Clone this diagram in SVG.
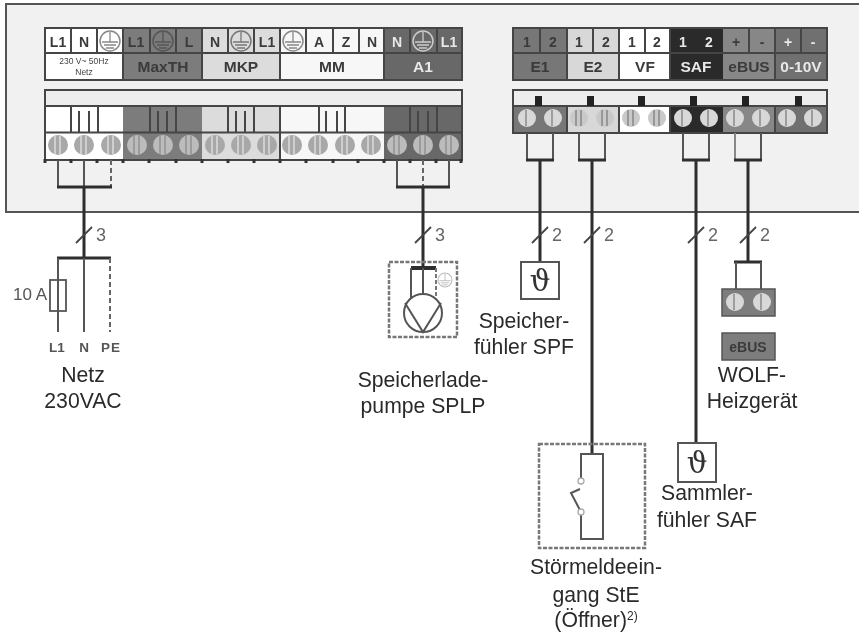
<svg xmlns="http://www.w3.org/2000/svg" xmlns:xlink="http://www.w3.org/1999/xlink" width="859" height="633" viewBox="0 0 859 633">
<style>
text{font-family:"Liberation Sans",Arial,sans-serif;text-anchor:middle}
.cap{font-size:21.200px;fill:#2a2a2a}
.t{font-size:14px;font-weight:700}
.g{font-size:15.500px;font-weight:700}
.num{font-size:18px;fill:#666}
.lab{font-size:13.500px;font-weight:700;fill:#555}
.dk{fill:#3a3a3a}.lt{fill:#e8e8e8}
.b{stroke:#444;stroke-width:2}
.ln{stroke:#444;stroke-width:2;fill:none}
.w{stroke:#555;stroke-width:2;fill:none}
.hv{stroke:#2e2e2e;stroke-width:3;fill:none}
.dash{stroke:#666;stroke-width:2;fill:none;stroke-dasharray:5 3}
.box{fill:none;stroke:#777;stroke-width:2.500;stroke-dasharray:4 1.500}
.th{font-size:29px;fill:#333;font-family:"DejaVu Serif","Liberation Serif",serif}
</style>
<defs>
<filter id="soft" x="-2%" y="-2%" width="104%" height="104%"><feGaussianBlur stdDeviation="0.7"/></filter>
<g id="s"><circle r="10" fill="#a8a8a8"/><path d="M-3-9V9M2-9V9" stroke="#e4e4e4" stroke-width="1.300"/></g>
<g id="sm"><circle r="10" fill="#bcbcbc"/><path d="M-3-9V9M2-9V9" stroke="#888" stroke-width="1.200"/></g>
<g id="sl"><circle r="9" fill="#c9c9c9"/><path d="M-3-8V8M2-8V8" stroke="#777" stroke-width="1.200"/></g>
<g id="sd"><circle r="9" fill="#d8d8d8"/><path d="M-1-8V8" stroke="#777" stroke-width="1.200"/></g>
<g id="pe"><circle r="10" fill="none" stroke="currentColor" stroke-width="1.500"/><path d="M0-9V1M-8 1H8M-6 4H6M-4 7H4" stroke="currentColor" stroke-width="1.300" fill="none"/></g>
<path id="tick" d="M-1.500 0h3v4h-3z" fill="#333"/>
<path id="sl2" d="M-8 8L8-8" stroke="#444" stroke-width="1.800" fill="none"/>
</defs>

<g id="housing"><rect x="6" y="4" width="870" height="208" fill="#f1f1f1" stroke="#555" stroke-width="2"/></g>

<g id="terminals-left" filter="url(#soft)">
<rect x="45" y="28" width="78" height="52" fill="#fff"/>
<rect x="123" y="28" width="79" height="52" fill="#7b7b7b"/>
<rect x="202" y="28" width="78" height="52" fill="#dcdcdc"/>
<rect x="280" y="28" width="104" height="52" fill="#f7f7f7"/>
<rect x="384" y="28" width="78" height="52" fill="#686868"/>
<rect x="45" y="28" width="417" height="52" fill="none" class="b"/>
<path class="b" d="M45 53H462M71 28V53M97 28V53M123 28V80M150 28V53M176 28V53M202 28V80M228 28V53M254 28V53M280 28V80M306 28V53M333 28V53M359 28V53M384 28V80M410 28V53M437 28V53"/>
<text class="t dk" x="58" y="47">L1</text><text class="t dk" x="84" y="47">N</text>
<use xlink:href="#pe" x="110" y="41" color="#888"/>
<text class="t dk" x="136" y="47">L1</text><use xlink:href="#pe" x="163" y="41" color="#555"/><text class="t dk" x="189" y="47">L</text>
<text class="t dk" x="215" y="47">N</text><use xlink:href="#pe" x="241" y="41" color="#777"/><text class="t dk" x="267" y="47">L1</text>
<use xlink:href="#pe" x="293" y="41" color="#888"/><text class="t dk" x="319" y="47">A</text><text class="t dk" x="346" y="47">Z</text><text class="t dk" x="372" y="47">N</text>
<text class="t lt" x="397" y="47">N</text><use xlink:href="#pe" x="423" y="41" color="#ccc"/><text class="t lt" x="449" y="47">L1</text>
<text x="84" y="64" font-size="8.500" fill="#444">230 V~ 50Hz</text><text x="84" y="75" font-size="8.500" fill="#444">Netz</text>
<text class="g dk" x="163" y="72">MaxTH</text><text class="g dk" x="241" y="72">MKP</text><text class="g dk" x="332" y="72">MM</text><text class="g lt" x="423" y="72">A1</text>

<rect x="45" y="90" width="417" height="70" fill="#ededed"/>
<rect x="45" y="106" width="78" height="54" fill="#fff"/>
<rect x="123" y="106" width="79" height="54" fill="#7b7b7b"/>
<rect x="202" y="106" width="78" height="54" fill="#dcdcdc"/>
<rect x="280" y="106" width="104" height="54" fill="#f7f7f7"/>
<rect x="384" y="106" width="78" height="54" fill="#686868"/>
<rect x="45" y="90" width="417" height="70" fill="none" class="b"/>
<path class="b" d="M45 106H462M45 132.500H462M280 106V160M71 106V132M98 106V132M150 106V132M176 106V132M228 106V132M254 106V132M319 106V132M345 106V132M410 106V132M437 106V132"/>
<path class="ln" d="M79 111V132M89 111V132M158 111V132M167 111V132M236 111V132M245 111V132M326 111V132M337 111V132M418 111V132M428 111V132"/>
<use xlink:href="#s" x="58" y="145"/><use xlink:href="#s" x="84" y="145"/><use xlink:href="#s" x="111" y="145"/>
<use xlink:href="#sm" x="137" y="145"/><use xlink:href="#sm" x="163" y="145"/><use xlink:href="#sm" x="189" y="145"/>
<use xlink:href="#s" x="215" y="145"/><use xlink:href="#s" x="241" y="145"/><use xlink:href="#s" x="267" y="145"/>
<use xlink:href="#s" x="292" y="145"/><use xlink:href="#s" x="318" y="145"/><use xlink:href="#s" x="345" y="145"/><use xlink:href="#s" x="371" y="145"/>
<use xlink:href="#sm" x="397" y="145"/><use xlink:href="#sm" x="423" y="145"/><use xlink:href="#sm" x="449" y="145"/>
<use xlink:href="#tick" x="45" y="159"/><use xlink:href="#tick" x="71" y="159"/><use xlink:href="#tick" x="97" y="159"/><use xlink:href="#tick" x="123" y="159"/><use xlink:href="#tick" x="149" y="159"/><use xlink:href="#tick" x="176" y="159"/><use xlink:href="#tick" x="202" y="159"/><use xlink:href="#tick" x="228" y="159"/><use xlink:href="#tick" x="254" y="159"/><use xlink:href="#tick" x="280" y="159"/><use xlink:href="#tick" x="306" y="159"/><use xlink:href="#tick" x="333" y="159"/><use xlink:href="#tick" x="358" y="159"/><use xlink:href="#tick" x="384" y="159"/><use xlink:href="#tick" x="410" y="159"/><use xlink:href="#tick" x="436" y="159"/><use xlink:href="#tick" x="461" y="159"/>
</g>

<g id="terminals-right" filter="url(#soft)">
<rect x="513" y="28" width="54" height="52" fill="#777"/>
<rect x="567" y="28" width="52" height="52" fill="#d8d8d8"/>
<rect x="619" y="28" width="51" height="52" fill="#fff"/>
<rect x="670" y="28" width="53" height="52" fill="#2b2b2b"/>
<rect x="723" y="28" width="52" height="52" fill="#878787"/>
<rect x="775" y="28" width="52" height="52" fill="#707070"/>
<rect x="513" y="28" width="314" height="52" fill="none" class="b"/>
<path class="b" d="M513 53H827M540 28V53M593 28V53M645 28V53M749 28V53M801 28V53M567 28V80M619 28V80M670 28V80M775 28V80"/>
<text class="t dk" x="527" y="47">1</text><text class="t dk" x="553" y="47">2</text>
<text class="t dk" x="579" y="47">1</text><text class="t dk" x="606" y="47">2</text>
<text class="t dk" x="632" y="47">1</text><text class="t dk" x="657" y="47">2</text>
<text class="t lt" x="683" y="47">1</text><text class="t lt" x="709" y="47">2</text>
<text class="t dk" x="736" y="47">+</text><text class="t dk" x="762" y="47">-</text>
<text class="t lt" x="788" y="47">+</text><text class="t lt" x="813" y="47">-</text>
<text class="g dk" x="540" y="72">E1</text><text class="g dk" x="593" y="72">E2</text><text class="g dk" x="645" y="72">VF</text>
<text class="g lt" x="696" y="72">SAF</text><text class="g dk" x="749" y="72">eBUS</text><text class="g lt" x="801" y="72">0-10V</text>

<rect x="513" y="90" width="314" height="43" fill="#ededed"/>
<rect x="513" y="106" width="54" height="27" fill="#777"/>
<rect x="567" y="106" width="52" height="27" fill="#d8d8d8"/>
<rect x="619" y="106" width="51" height="27" fill="#fff"/>
<rect x="670" y="106" width="53" height="27" fill="#2b2b2b"/>
<rect x="723" y="106" width="52" height="27" fill="#878787"/>
<rect x="775" y="106" width="52" height="27" fill="#707070"/>
<rect x="513" y="90" width="314" height="43" fill="none" class="b"/>
<path class="b" d="M513 106H827M567 106V133M619 106V133M670 106V133M775 106V133"/>
<path d="M535 96h7v10h-7zM587 96h7v10h-7zM638 96h7v10h-7zM690 96h7v10h-7zM742 96h7v10h-7zM795 96h7v10h-7z" fill="#222"/>
<use xlink:href="#sd" x="527" y="118"/><use xlink:href="#sd" x="553" y="118"/>
<use xlink:href="#sl" x="579" y="118"/><use xlink:href="#sl" x="605" y="118"/><use xlink:href="#sl" x="631" y="118"/><use xlink:href="#sl" x="657" y="118"/>
<use xlink:href="#sd" x="683" y="118"/><use xlink:href="#sd" x="709" y="118"/>
<use xlink:href="#sd" x="735" y="118"/><use xlink:href="#sd" x="761" y="118"/><use xlink:href="#sd" x="787" y="118"/><use xlink:href="#sd" x="813" y="118"/>
</g>

<g id="connectors">
<path class="w" d="M58 160V187M84 160V187"/><path class="dash" d="M111 160V187"/>
<path class="hv" d="M57 187H112M84 187V258M57 258H111"/>
<path class="w" d="M397 160V187M449 160V187"/><path class="dash" d="M423 160V187"/>
<path class="hv" d="M396 187H450M423 187V268"/>
<path class="w" d="M527 133V160M553 133V160M579 133V160M605 133V160M683 133V160M709 133V160M761 133V160"/>
<path d="M735 133V160" stroke="#888" stroke-width="2"/>
<path class="hv" d="M526 160H554M540 160V262M578 160H606M592 160V454M682 160H710M696 160V443M734 160H762M748 160V262M734 262H762"/>
<path class="w" d="M736 262V289M761 262V289"/>
<use xlink:href="#sl2" x="84" y="235"/><use xlink:href="#sl2" x="423" y="235"/><use xlink:href="#sl2" x="540" y="235"/><use xlink:href="#sl2" x="592" y="235"/><use xlink:href="#sl2" x="696" y="235"/><use xlink:href="#sl2" x="748" y="235"/>
<text class="num" x="101" y="241">3</text><text class="num" x="440" y="241">3</text><text class="num" x="557" y="241">2</text><text class="num" x="609" y="241">2</text><text class="num" x="713" y="241">2</text><text class="num" x="765" y="241">2</text>
</g>

<g id="netz">
<path class="w" d="M58 258V332M84 258V332"/>
<path class="dash" d="M110 258V332"/>
<rect x="50" y="280" width="16" height="31" fill="none" stroke="#555" stroke-width="1.800"/>
<text x="30" y="300" font-size="17" fill="#555">10 A</text>
<text class="lab" x="57" y="352">L1</text><text class="lab" x="84" y="352">N</text><text class="lab" x="111" y="352" letter-spacing="1">PE</text>
<text class="cap" x="83" y="382">Netz</text><text class="cap" x="83" y="408">230VAC</text>
</g>

<g id="pumpe">
<rect class="box" x="389" y="262" width="68" height="75"/>
<path d="M411 268H436" stroke="#2e2e2e" stroke-width="4" fill="none"/>
<path class="w" d="M411 268V298M423 268V294"/><path d="M436 268V296" stroke="#777" stroke-width="2" stroke-dasharray="4 2" fill="none"/>
<use xlink:href="#pe" color="#bbb" transform="translate(445 280) scale(.7)"/>
<circle cx="423" cy="313" r="19" fill="none" stroke="#555" stroke-width="2"/>
<path class="w" d="M405 303L423 332L441 303"/>
<text class="cap" x="423" y="387">Speicherlade-</text><text class="cap" x="423" y="413">pumpe SPLP</text>
</g>

<g id="spf">
<rect x="521" y="262" width="38" height="37" fill="#fff" stroke="#555" stroke-width="2"/>
<text class="th" x="540" y="291">ϑ</text>
<text class="cap" x="524" y="328">Speicher-</text><text class="cap" x="524" y="354">fühler SPF</text>
</g>

<g id="saf">
<rect x="678" y="443" width="38" height="39" fill="#fff" stroke="#555" stroke-width="2"/>
<text class="th" x="697" y="473">ϑ</text>
<text class="cap" x="707" y="500">Sammler-</text><text class="cap" x="707" y="527">fühler SAF</text>
</g>

<g id="ste">
<rect class="box" x="539" y="444" width="106" height="104"/>
<path class="w" d="M581 481V454H603V539H581V512"/>
<path class="w" d="M581 512L571 493L580 489"/>
<circle cx="581" cy="481" r="3" fill="#fff" stroke="#aaa" stroke-width="1.300"/>
<circle cx="581" cy="512" r="3" fill="#fff" stroke="#aaa" stroke-width="1.300"/>
<text class="cap" x="596" y="574">Störmeldeein-</text><text class="cap" x="596" y="602">gang StE</text>
<text class="cap" x="596" y="627">(Öffner)<tspan font-size="12" dy="-7">2)</tspan></text>
</g>

<g id="wolf">
<g filter="url(#soft)">
<rect x="722" y="289" width="53" height="27" fill="#7d7d7d" stroke="#555" stroke-width="1.500"/>
<use xlink:href="#sd" x="735" y="302"/><use xlink:href="#sd" x="762" y="302"/>
<rect x="722" y="333" width="53" height="27" fill="#7d7d7d" stroke="#555" stroke-width="1.500"/>
<text class="t" x="748" y="352" fill="#3a3a3a">eBUS</text>
</g>
<text class="cap" x="752" y="382">WOLF-</text><text class="cap" x="752" y="408">Heizgerät</text>
</g>
</svg>
